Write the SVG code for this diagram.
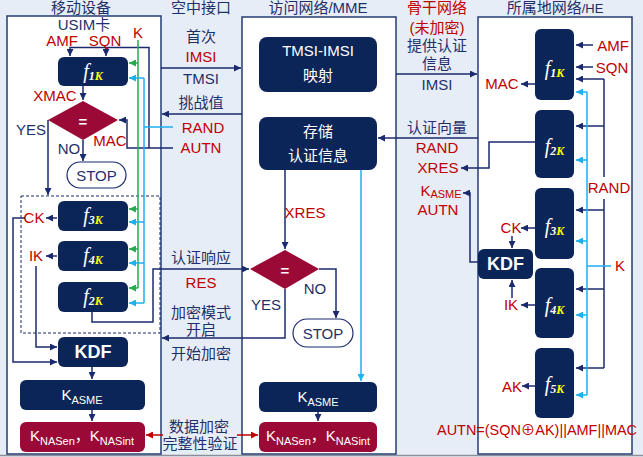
<svg xmlns="http://www.w3.org/2000/svg" width="643" height="457" viewBox="0 0 643 457">
<defs>
<style>
text{font-family:"Liberation Sans","Noto Sans CJK SC",sans-serif;font-size:15px;fill:#1f3068}
.r{fill:#c00000}
.w{fill:#ffffff}
.m{text-anchor:middle}
.col{fill:#ffffff;stroke:#233c73;stroke-width:1.5}
.nb{fill:#0c2559}
.cr{fill:#9b0a36}
.c{fill:none;stroke:#1b2a6e;stroke-width:1.5}
.g{fill:none;stroke:#1fae4b;stroke-width:1.5}
.cy{fill:none;stroke:#1cb0ef;stroke-width:1.5}
.rd{fill:none;stroke:#c00000;stroke-width:1.5}
.a{marker-end:url(#an)}
.ag{marker-end:url(#ag)}
.ac{marker-end:url(#ac)}
.ar{marker-end:url(#ar)}
.fl{font-family:"Liberation Serif",serif;font-style:italic;fill:#ffffff;font-size:20px}
.sub{font-size:12px;font-weight:bold}
.y{fill:#ffff00}
.kdf{font-weight:bold;font-size:18px;fill:#ffffff}
.stop{fill:#ffffff;stroke:#1b2a6e;stroke-width:1.2}
</style>
<marker id="an" viewBox="0 0 8 8" refX="8" refY="4" markerWidth="7" markerHeight="7" markerUnits="userSpaceOnUse" orient="auto"><path d="M0,0 L8,4 L0,8 z" fill="#1b2a6e"/></marker>
<marker id="ag" viewBox="0 0 8 8" refX="8" refY="4" markerWidth="7" markerHeight="7" markerUnits="userSpaceOnUse" orient="auto"><path d="M0,0 L8,4 L0,8 z" fill="#1fae4b"/></marker>
<marker id="ac" viewBox="0 0 8 8" refX="8" refY="4" markerWidth="7" markerHeight="7" markerUnits="userSpaceOnUse" orient="auto"><path d="M0,0 L8,4 L0,8 z" fill="#1cb0ef"/></marker>
<marker id="ar" viewBox="0 0 8 8" refX="8" refY="4" markerWidth="7" markerHeight="7" markerUnits="userSpaceOnUse" orient="auto"><path d="M0,0 L8,4 L0,8 z" fill="#c00000"/></marker>
</defs>
<rect width="643" height="457" fill="#e7edf6"/>
<line x1="0" y1="455.5" x2="643" y2="455.5" stroke="#8a8f99" stroke-width="1.5"/>

<g id="columns">
<rect class="col" x="7" y="16" width="154" height="438"/>
<rect class="col" x="242" y="17" width="154" height="437"/>
<rect class="col" x="478" y="17" width="154" height="437"/>
<rect x="21" y="196" width="139" height="137" fill="none" stroke="#1b2a6e" stroke-width="1" stroke-dasharray="3,2"/>
</g>

<g id="titles">
<text class="m" x="81" y="13">移动设备</text>
<text class="m" x="201" y="13">空中接口</text>
<text class="m" x="318" y="13">访问网络/MME</text>
<text class="m" x="555" y="13">所属地网络<tspan font-size="13">/HE</tspan></text>
</g>

<g id="connectors">
<path class="c a" d="M173,148 H127 V120 H119"/>
<path class="c a" d="M149,148 V47.5 H70 V56"/>
<path class="c a" d="M106,47.5 V56"/>
<path class="c a" d="M83,86 V100"/>
<path class="c a" d="M48,120 V195"/>
<path class="c a" d="M83,140 V161"/>
<path class="c a" d="M57,218 H46"/>
<path class="c a" d="M25,218 H13 V362 H57"/>
<path class="c a" d="M57,256 H46"/>
<path class="c a" d="M36,266 V347 H57"/>
<path class="c a" d="M92,367 V379"/>
<path class="c a" d="M92,410 V421"/>
<path class="c a" d="M92,312 V322 H153 V269 H249"/>
<path class="g" d="M138,40 V288"/>
<path class="g ag" d="M138,63 H129"/>
<path class="g ag" d="M138,209 H129"/>
<path class="g ag" d="M138,249 H129"/>
<path class="g ag" d="M138,288 H129"/>
<path class="cy" d="M173,127 H144 M144,78 V303"/>
<path class="cy ac" d="M144,78 H129"/>
<path class="cy ac" d="M144,222 H129"/>
<path class="cy ac" d="M144,263 H129"/>
<path class="cy ac" d="M144,303 H129"/>
<path class="c a" d="M161,68 H241"/>
<path class="c a" d="M242,114 H162"/>
<path class="c a" d="M478,138 H378"/>
<path class="c a" d="M285,170 V249"/>
<path class="c a" d="M319,269 H336 V318"/>
<path class="c a" d="M285,289 V338 H162"/>
<path class="cy ac" d="M361,170 V381"/>
<path class="c a" d="M318,412 V421"/>
<path class="rd ar" d="M163,435 H146"/>
<path class="rd ar" d="M237,435 H258"/>
<path class="c a" d="M396,74 H477"/>
<path class="c a" d="M535,84 H521"/>
<path class="c a" d="M536,142 H489 V168 H461"/>
<path class="c a" d="M478,262 H470 V193 H463"/>
<path class="c a" d="M535,228 H521"/>
<path class="c a" d="M512,236 V248"/>
<path class="c a" d="M535,305 H521"/>
<path class="c a" d="M512,298 V280"/>
<path class="c a" d="M535,386 H522"/>
<path class="c a" d="M593,45 H576"/>
<path class="c a" d="M593,67 H576"/>
<path class="c" d="M604,79 V177 M604,199 V368"/>
<path class="c a" d="M604,79 H576"/>
<path class="c a" d="M604,126 H576"/>
<path class="c a" d="M604,210 H576"/>
<path class="c a" d="M604,289 H576"/>
<path class="c a" d="M604,368 H576"/>
<path class="cy" d="M587,92 V395 M587,266 H611"/>
<path class="cy ac" d="M587,92 H576"/>
<path class="cy ac" d="M587,160 H576"/>
<path class="cy ac" d="M587,241 H576"/>
<path class="cy ac" d="M587,315 H576"/>
<path class="cy ac" d="M587,395 H576"/>
</g>

<g id="ue-f1k"><rect class="nb" x="58" y="57" width="70" height="29" rx="6"/><text class="fl m" x="93" y="78">f<tspan class="sub" dy="2">1</tspan><tspan class="sub y">K</tspan></text></g>
<g id="ue-cmp"><polygon class="cr" points="48,120 83,101 118,120 83,140"/><text class="w m" x="83" y="127" font-size="20" font-weight="bold">=</text></g>
<g id="ue-stop"><rect class="stop" x="67" y="162" width="59" height="26" rx="13"/><text class="m" x="96.5" y="180.5">STOP</text></g>
<g id="ue-f3k"><rect class="nb" x="58" y="201" width="70" height="30" rx="6"/><text class="fl m" x="93" y="222">f<tspan class="sub" dy="2">3</tspan><tspan class="sub y">K</tspan></text></g>
<g id="ue-f4k"><rect class="nb" x="58" y="241" width="70" height="30" rx="6"/><text class="fl m" x="93" y="262">f<tspan class="sub" dy="2">4</tspan><tspan class="sub y">K</tspan></text></g>
<g id="ue-f2k"><rect class="nb" x="58" y="282" width="70" height="30" rx="6"/><text class="fl m" x="93" y="303">f<tspan class="sub" dy="2">2</tspan><tspan class="sub y">K</tspan></text></g>
<g id="ue-kdf"><rect class="nb" x="58" y="337" width="70" height="30" rx="6"/><text class="kdf m" x="93" y="358">KDF</text></g>
<g id="ue-kasme"><rect class="nb" x="20" y="380" width="125" height="30" rx="6"/><text class="w m" x="82" y="400" font-size="16">K<tspan font-size="11" dy="4">ASME</tspan></text></g>
<g id="ue-knas"><rect class="cr" x="20" y="422" width="125" height="30" rx="6"/><text class="w m" x="82" y="441" font-size="16">K<tspan font-size="11" dy="4">NASen</tspan><tspan dy="-4">，K</tspan><tspan font-size="11" dy="4">NASint</tspan></text></g>

<g id="mme-map"><rect class="nb" x="259" y="37" width="118" height="55" rx="8"/><text class="w m" x="318" y="56" font-size="16">TMSI-IMSI</text><text class="w m" x="318" y="81" font-size="16">映射</text></g>
<g id="mme-store"><rect class="nb" x="259" y="117" width="118" height="53" rx="8"/><text class="w m" x="318" y="137" font-size="16">存储</text><text class="w m" x="318" y="161" font-size="16">认证信息</text></g>
<g id="mme-cmp"><polygon class="cr" points="250,269 285,250 319,269 285,289"/><text class="w m" x="285" y="276" font-size="20" font-weight="bold">=</text></g>
<g id="mme-stop"><rect class="stop" x="293" y="319" width="60" height="28" rx="14"/><text class="m" x="323" y="338.5">STOP</text></g>
<g id="mme-kasme"><rect class="nb" x="259" y="382" width="118" height="30" rx="6"/><text class="w m" x="318" y="402" font-size="16">K<tspan font-size="11" dy="4">ASME</tspan></text></g>
<g id="mme-knas"><rect class="cr" x="259" y="422" width="118" height="30" rx="6"/><text class="w m" x="318" y="441" font-size="16">K<tspan font-size="11" dy="4">NASen</tspan><tspan dy="-4">，K</tspan><tspan font-size="11" dy="4">NASint</tspan></text></g>

<g id="he-f1k"><rect class="nb" x="535" y="29" width="39" height="71" rx="6"/><text class="fl m" x="554.5" y="75">f<tspan class="sub" dy="2">1</tspan><tspan class="sub y">K</tspan></text></g>
<g id="he-f2k"><rect class="nb" x="535" y="110" width="39" height="68" rx="6"/><text class="fl m" x="554.5" y="153">f<tspan class="sub" dy="2">2</tspan><tspan class="sub y">K</tspan></text></g>
<g id="he-f3k"><rect class="nb" x="535" y="188" width="39" height="71" rx="6"/><text class="fl m" x="554.5" y="233">f<tspan class="sub" dy="2">3</tspan><tspan class="sub y">K</tspan></text></g>
<g id="he-f4k"><rect class="nb" x="535" y="268" width="39" height="70" rx="6"/><text class="fl m" x="554.5" y="312">f<tspan class="sub" dy="2">4</tspan><tspan class="sub y">K</tspan></text></g>
<g id="he-f5k"><rect class="nb" x="535" y="348" width="39" height="70" rx="6"/><text class="fl m" x="554.5" y="391">f<tspan class="sub" dy="2">5</tspan><tspan class="sub y">K</tspan></text></g>
<g id="he-kdf"><rect class="nb" x="478" y="249" width="55" height="30" rx="6"/><text class="kdf m" x="505.5" y="270">KDF</text></g>

<g id="labels">
<text class="m" x="84" y="29.5" font-size="12.5">USIM卡</text>
<text class="r m" x="62" y="45.5" font-size="14.5">AMF</text>
<text class="r m" x="105" y="45.5" font-size="14.5">SQN</text>
<text class="r m" x="138" y="38">K</text>
<text class="r m" x="55" y="101">XMAC</text>
<text class="m" x="31" y="135" font-size="14">YES</text>
<text class="m" x="69" y="154" font-size="14">NO</text>
<text class="r m" x="110" y="146">MAC</text>
<text class="r m" x="34" y="223">CK</text>
<text class="r m" x="36" y="261">IK</text>

<text class="m" x="201" y="42">首次</text>
<text class="r m" x="201" y="62">IMSI</text>
<text class="m" x="201" y="84">TMSI</text>
<text class="m" x="201" y="108">挑战值</text>
<text class="r m" x="203" y="133">RAND</text>
<text class="r m" x="201" y="153">AUTN</text>
<text class="m" x="201" y="263">认证响应</text>
<text class="r m" x="201" y="288">RES</text>
<text class="m" x="201" y="318">加密模式</text>
<text class="m" x="201" y="335">开启</text>
<text class="m" x="201" y="359">开始加密</text>
<text class="m" x="199" y="432">数据加密</text>
<text class="m" x="200" y="449">完整性验证</text>

<text class="r m" x="305" y="218">XRES</text>
<text class="m" x="315" y="294" font-size="14">NO</text>
<text class="m" x="266" y="310" font-size="14">YES</text>

<text class="r m" x="437" y="13">骨干网络</text>
<text class="r m" x="437" y="33">(未加密)</text>
<text class="m" x="437" y="51">提供认证</text>
<text class="m" x="437" y="69">信息</text>
<text class="m" x="437" y="90">IMSI</text>
<text class="m" x="437" y="133">认证向量</text>
<text class="r m" x="437" y="153">RAND</text>
<text class="r m" x="438" y="173">XRES</text>
<text class="r m" x="441" y="196">K<tspan font-size="11" dy="2">ASME</tspan></text>
<text class="r m" x="438" y="215">AUTN</text>

<text class="r m" x="502" y="89">MAC</text>
<text class="r m" x="511" y="233">CK</text>
<text class="r m" x="511" y="310">IK</text>
<text class="r m" x="512" y="392">AK</text>
<text class="r m" x="613" y="51">AMF</text>
<text class="r m" x="612" y="73">SQN</text>
<text class="r m" x="609" y="193">RAND</text>
<text class="r m" x="620" y="271">K</text>
<text class="r" x="437" y="435" font-size="14.5" textLength="200" lengthAdjust="spacingAndGlyphs">AUTN=(SQN⊕AK)||AMF||MAC</text>
</g>
</svg>
